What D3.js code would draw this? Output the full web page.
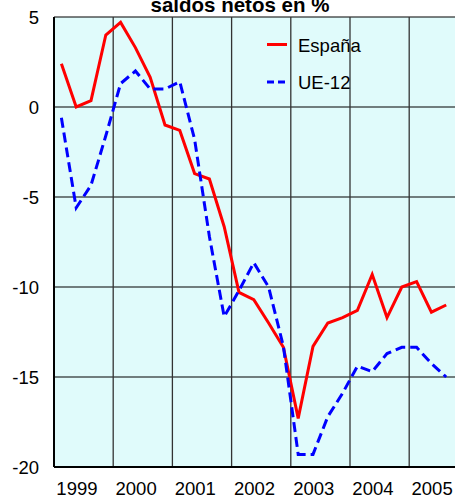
<!DOCTYPE html>
<html lang="es">
<head>
  <meta charset="UTF-8">
  <title>saldos netos en %</title>
  <script src="https://d3js.org/d3.v7.min.js"></script>
  <style>
    body {
      margin: 0;
      background-color: #ffffff;
      font-family: 'Liberation Sans', Arial, sans-serif;
    }
    svg {
      display: block;
    }
  </style>
</head>
<body>
  <svg id="chart" width="455" height="499"></svg>

  <script>
    // Quarterly data, 1999 Q1 .. 2005 Q3
    const years = ["1999", "2000", "2001", "2002", "2003", "2004", "2005"];
    const quarters = [
      "1999T1", "1999T2", "1999T3", "1999T4",
      "2000T1", "2000T2", "2000T3", "2000T4",
      "2001T1", "2001T2", "2001T3", "2001T4",
      "2002T1", "2002T2", "2002T3", "2002T4",
      "2003T1", "2003T2", "2003T3", "2003T4",
      "2004T1", "2004T2", "2004T3", "2004T4",
      "2005T1", "2005T2", "2005T3"
    ];
    const espana = [2.4, 0.0, 0.35, 4.0, 4.7, 3.3, 1.65, -1.0, -1.3, -3.7, -4.0, -6.65, -10.3, -10.7,
                    -12.0, -13.35, -17.3, -13.3, -12.0, -11.7, -11.3, -9.3, -11.7, -10.0, -9.7, -11.4, -11.0];
    const ue12 = [-0.6, -5.6, -4.35, -1.6, 1.3, 2.0, 1.0, 1.0, 1.4, -1.8, -7.2, -11.65, -10.2, -8.65,
                  -10.0, -13.3, -19.3, -19.3, -17.2, -15.9, -14.4, -14.7, -13.7, -13.35, -13.35, -14.25, -15.0];
    const yTicks = [5, 0, -5, -10, -15, -20];

    const series = [
      { name: "España", values: espana, color: "#ff0000", dash: null },
      { name: "UE-12", values: ue12, color: "#0000ff", dash: "10,5" }
    ];

    const svg = d3.select("#chart");
    const plotLeft = 54, plotTop = 17, plotBottom = 467;
    const qWidth = 14.8;
    const nSlots = years.length * 4;

    // x: one slot per quarter, point drawn in the middle of its slot
    const x = d3.scaleLinear().domain([0, nSlots]).range([plotLeft, plotLeft + nSlots * qWidth]);
    const y = d3.scaleLinear().domain([-20, 5]).range([plotBottom, plotTop]);

    // plot background
    svg.append("rect")
      .attr("x", x(0))
      .attr("y", y(5))
      .attr("width", x(nSlots) - x(0))
      .attr("height", y(-20) - y(5))
      .attr("fill", "#e0fbfb");

    // horizontal grid
    svg.append("g")
      .selectAll("line")
      .data(yTicks)
      .enter().append("line")
      .attr("x1", x(0))
      .attr("x2", x(nSlots))
      .attr("y1", d => y(d))
      .attr("y2", d => y(d))
      .attr("stroke", "#000")
      .attr("stroke-width", 1.2);

    // vertical grid at year boundaries
    svg.append("g")
      .selectAll("line")
      .data(d3.range(1, years.length + 1))
      .enter().append("line")
      .attr("x1", d => x(d * 4))
      .attr("x2", d => x(d * 4))
      .attr("y1", y(5))
      .attr("y2", y(-20))
      .attr("stroke", "#333")
      .attr("stroke-width", 1.3);

    // axes lines
    svg.append("line")
      .attr("x1", x(0)).attr("x2", x(0))
      .attr("y1", y(5)).attr("y2", y(-20))
      .attr("stroke", "#000").attr("stroke-width", 2);
    svg.append("line")
      .attr("x1", x(0)).attr("x2", x(nSlots))
      .attr("y1", y(-20)).attr("y2", y(-20))
      .attr("stroke", "#000").attr("stroke-width", 2);

    // y labels
    svg.append("g")
      .selectAll("text")
      .data(yTicks)
      .enter().append("text")
      .attr("x", 39)
      .attr("y", d => y(d))
      .attr("dy", "0.36em")
      .attr("text-anchor", "end")
      .style("font-size", "18.5px")
      .text(d => d);

    // year labels, under the 2nd quarter of each year
    svg.append("g")
      .selectAll("text")
      .data(years)
      .enter().append("text")
      .attr("x", (d, i) => x(i * 4 + 1.55))
      .attr("y", 495)
      .attr("text-anchor", "middle")
      .style("font-size", "18.5px")
      .text(d => d);

    // lines
    const line = d3.line()
      .x((d, i) => x(i + 0.5))
      .y(d => y(d));

    svg.append("g")
      .selectAll("path")
      .data(series)
      .enter().append("path")
      .attr("d", d => line(d.values))
      .attr("fill", "none")
      .attr("stroke", d => d.color)
      .attr("stroke-width", 3)
      .attr("stroke-dasharray", d => d.dash)
      .attr("stroke-linejoin", "miter");

    // legend
    const legend = svg.append("g")
      .selectAll("g")
      .data(series)
      .enter().append("g")
      .attr("transform", (d, i) => `translate(267, ${44.5 + i * 37.5})`);

    legend.append("line")
      .attr("x1", 0).attr("x2", 20)
      .attr("stroke", d => d.color)
      .attr("stroke-width", 3)
      .attr("stroke-dasharray", d => d.dash ? "7,4" : null);

    legend.append("text")
      .attr("x", 31)
      .attr("y", 7.3)
      .style("font-size", "18.5px")
      .text(d => d.name);

    // title (cut by the top edge in the original)
    svg.append("text")
      .attr("x", 240)
      .attr("y", 12)
      .attr("text-anchor", "middle")
      .style("font-size", "20.5px")
      .style("font-weight", "bold")
      .text("saldos netos en %");
  </script>
</body>
</html>
